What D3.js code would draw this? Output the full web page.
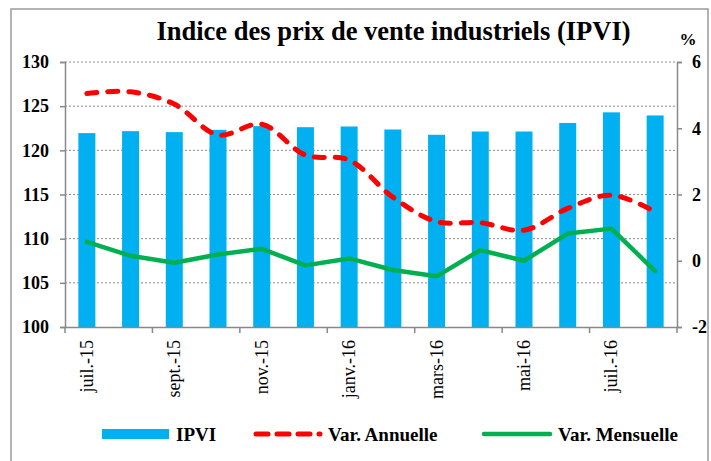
<!DOCTYPE html>
<html><head><meta charset="utf-8">
<script src="https://cdn.jsdelivr.net/npm/d3@7"></script>
<style>body{margin:0;background:#fff}svg{display:block}</style>
</head><body>
<svg id="c" width="711" height="461"></svg>
<script>
const categories = ["juil.-15","août-15","sept.-15","oct.-15","nov.-15","déc.-15","janv.-16","févr.-16","mars-16","avr.-16","mai-16","juin-16","juil.-16","août-16"];
const ipvi = [121.95,122.17,122.06,122.32,122.74,122.62,122.7,122.36,121.76,122.13,122.13,123.1,124.3,123.95];
const varAnnuelle = [5.05,5.1,4.73,3.8,4.12,3.19,3.04,1.92,1.18,1.15,0.92,1.58,1.98,1.48];
const varMensuelle = [0.57,0.15,-0.06,0.19,0.36,-0.14,0.07,-0.28,-0.47,0.32,0.0,0.82,0.97,-0.31];
const leftTicks = [100,105,110,115,120,125,130];
const rightTicks = [-2,0,2,4,6];
const labelEvery = 2;
const title = "Indice des prix de vente industriels (IPVI)";
const legendItems = ["IPVI","Var. Annuelle","Var. Mensuelle"];

const serif = "'Liberation Serif','Times New Roman',serif";
const svg = d3.select("#c");
const L = 65, R = 677, T = 62, B = 327;
const blue = "#00B0F0", red = "#FF0000", green = "#00B050", axisCol = "#898989";

svg.append("rect").attr("x",11).attr("y",9).attr("width",697).attr("height",470)
  .attr("fill","#fff").attr("stroke","#9a9a9a").attr("stroke-width",1.5);

const x = d3.scaleBand().domain(categories).range([L,R]).padding(0);
const yL = d3.scaleLinear().domain([100,130]).range([B,T]);
const yR = d3.scaleLinear().domain([-2,6]).range([B,T]);
const cx = d => x(d) + x.bandwidth()/2;

// grid
svg.append("g").selectAll("line").data(leftTicks.filter(t=>t>100)).join("line")
  .attr("x1",L).attr("x2",R).attr("y1",d=>yL(d)).attr("y2",d=>yL(d))
  .attr("stroke","#8c8c8c").attr("stroke-width",1).attr("stroke-dasharray","2,2");

// bars
const bw = 17;
svg.append("g").selectAll("rect").data(ipvi).join("rect")
  .attr("x",(d,i)=>cx(categories[i])-bw/2).attr("width",bw)
  .attr("y",d=>yL(d)).attr("height",d=>yL(100)-yL(d)).attr("fill",blue);

// lines
const lineA = d3.line().x((d,i)=>cx(categories[i])).y(d=>yR(d)).curve(d3.curveCatmullRom.alpha(0.5));
svg.append("path").datum(varAnnuelle).attr("d",lineA).attr("fill","none")
  .attr("stroke",red).attr("stroke-width",5).attr("stroke-dasharray","10,11").attr("stroke-linecap","round");
const lineM = d3.line().x((d,i)=>cx(categories[i])).y(d=>yR(d));
svg.append("path").datum(varMensuelle).attr("d",lineM).attr("fill","none")
  .attr("stroke",green).attr("stroke-width",4.5).attr("stroke-linejoin","round").attr("stroke-linecap","round");

// left axis
const gL = svg.append("g").attr("transform",`translate(${L},0)`)
  .call(d3.axisLeft(yL).tickValues(leftTicks).tickSize(5).tickPadding(11).tickFormat(d3.format("d")));
// right axis
const gR = svg.append("g").attr("transform",`translate(${R},0)`)
  .call(d3.axisRight(yR).tickValues(rightTicks).tickSize(5).tickPadding(10).tickFormat(d=>d));
// bottom axis
const gB = svg.append("g").attr("transform",`translate(0,${B})`)
  .call(d3.axisBottom(x).tickValues(categories.filter((d,i)=>i%labelEvery===0)).tickSize(0).tickPadding(0));
[gL,gR,gB].forEach(g=>{
  g.select(".domain").attr("stroke",axisCol).attr("stroke-width",1.5);
  g.selectAll(".tick line").attr("stroke",axisCol).attr("stroke-width",1.5);
});
gL.selectAll("text").attr("font-family",serif).attr("font-weight","bold").attr("font-size",18).attr("fill","#000");
gR.selectAll("text").attr("font-family",serif).attr("font-weight","bold").attr("font-size",18).attr("fill","#000");
gB.selectAll("text").attr("font-family",serif).attr("font-size",18).attr("fill","#000")
  .attr("transform","rotate(-90)").attr("text-anchor","end").attr("dy","0.33em").attr("x",-13).attr("y",0);
// boundary ticks on x axis
const bounds = categories.map((d,i)=>i).filter(i=>i%labelEvery===0).map(i=>x(categories[i])).concat([R]);
gB.append("g").selectAll("line").data(bounds).join("line")
  .attr("x1",d=>d).attr("x2",d=>d).attr("y1",0).attr("y2",6)
  .attr("stroke",axisCol).attr("stroke-width",1.5);

// title
svg.append("text").attr("x",393.5).attr("y",40).attr("text-anchor","middle")
  .attr("font-family",serif).attr("font-weight","bold").attr("font-size",26.5).text(title);
svg.append("text").attr("x",688).attr("y",45).attr("text-anchor","middle")
  .attr("font-family",serif).attr("font-weight","bold").attr("font-size",17).text("%");

// legend
const ly = 434;
const lg = svg.append("g");
lg.append("rect").attr("x",102).attr("y",ly-5).attr("width",67).attr("height",10).attr("fill",blue);
lg.append("text").attr("x",176).attr("y",ly).attr("dy","0.35em").text(legendItems[0]);
lg.append("line").attr("x1",256).attr("x2",320).attr("y1",ly).attr("y2",ly)
  .attr("stroke",red).attr("stroke-width",5).attr("stroke-dasharray","12,9").attr("stroke-linecap","round");
lg.append("text").attr("x",328).attr("y",ly).attr("dy","0.35em").text(legendItems[1]);
lg.append("line").attr("x1",484).attr("x2",550).attr("y1",ly).attr("y2",ly)
  .attr("stroke",green).attr("stroke-width",4.5).attr("stroke-linecap","round");
lg.append("text").attr("x",558).attr("y",ly).attr("dy","0.35em").text(legendItems[2]);
lg.selectAll("text").attr("font-family",serif).attr("font-weight","bold").attr("font-size",19);
</script>
</body></html>
